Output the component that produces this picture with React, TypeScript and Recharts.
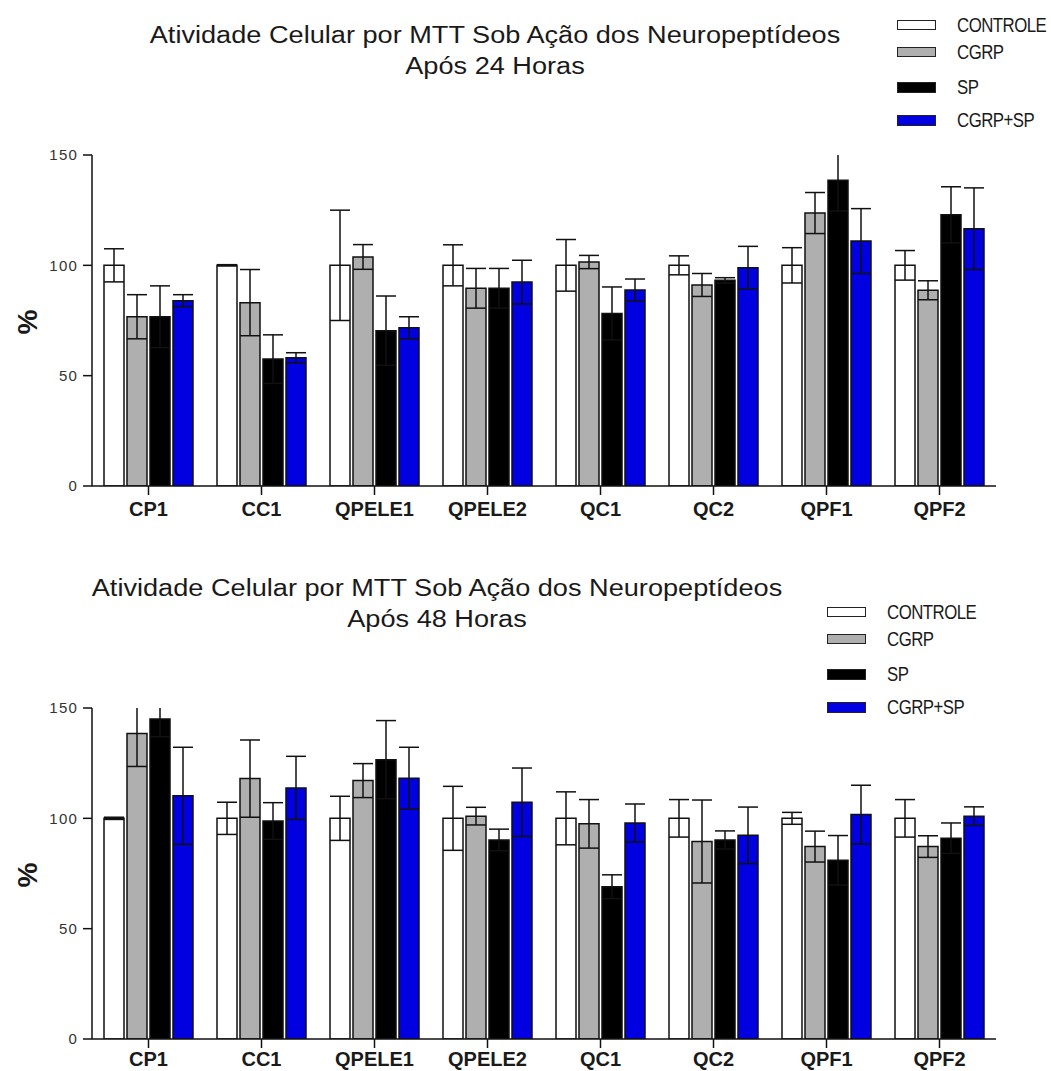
import { BarChart, Bar, XAxis, YAxis, ErrorBar, Legend } from 'recharts';

const categories = ['CP1', 'CC1', 'QPELE1', 'QPELE2', 'QC1', 'QC2', 'QPF1', 'QPF2'];
const seriesNames = ['CONTROLE', 'CGRP', 'SP', 'CGRP+SP'];
const seriesKeys = ['controle', 'cgrp', 'sp', 'cgrpSp'];
const seriesFills = ['#ffffff', '#afafaf', '#000000', '#0000e0'];
const yTicks = [0, 50, 100, 150];

const titleMain = 'Atividade Celular por MTT Sob Ação dos Neuropeptídeos';
const title24 = 'Após 24 Horas';
const title48 = 'Após 48 Horas';

// 24 horas
const controle24 = [100, 100, 100, 100, 100, 100, 100, 100];
const controle24Err = [7.5, 0.3, 25, 9.3, 11.7, 4.3, 8, 6.7];
const cgrp24 = [76.7, 83.1, 103.8, 89.6, 101.5, 91.1, 123.7, 88.7];
const cgrp24Err = [10, 15, 5.6, 9, 3, 5.2, 9.3, 4.3];
const sp24 = [76.7, 57.5, 70.4, 89.6, 78.2, 93.2, 138.6, 122.9];
const sp24Err = [14, 11, 15.7, 9, 12, 1.2, 14, 12.7];
const cgrpSp24 = [84, 58.1, 71.7, 92.4, 88.8, 98.9, 111, 116.6];
const cgrpSp24Err = [2.7, 2.3, 5, 9.9, 5, 9.7, 14.7, 18.5];

// 48 horas
const controle48 = [100, 100, 100, 100, 100, 100, 100, 100];
const controle48Err = [0.5, 7.3, 10, 14.5, 12, 8.5, 2.7, 8.5];
const cgrp48 = [138.5, 118, 117.1, 101, 97.5, 89.5, 87.2, 87.2];
const cgrp48Err = [15, 17.5, 7.7, 4, 11, 18.8, 7, 4.9];
const sp48 = [145, 98.8, 126.6, 90.2, 69, 90.2, 81, 91];
const sp48Err = [8, 8.3, 17.7, 4.9, 5.4, 4.1, 11.2, 6.9];
const cgrpSp48 = [110.2, 113.8, 118.2, 107.3, 97.9, 92.3, 101.7, 101];
const cgrpSp48Err = [22, 14.3, 14, 15.5, 8.6, 12.8, 13.3, 4.2];

function buildRows(values: number[][], errors: number[][]) {
  return categories.map((name, i) => {
    const row: Record<string, string | number> = { name };
    seriesKeys.forEach((k, s) => {
      row[k] = values[s][i];
      row[k + 'Err'] = errors[s][i];
    });
    return row;
  });
}

const rows24 = buildRows(
  [controle24, cgrp24, sp24, cgrpSp24],
  [controle24Err, cgrp24Err, sp24Err, cgrpSp24Err],
);
const rows48 = buildRows(
  [controle48, cgrp48, sp48, cgrpSp48],
  [controle48Err, cgrp48Err, sp48Err, cgrpSp48Err],
);

const FONT = '"Liberation Sans", Arial, sans-serif';
const PLOT_TOP = 155;
const legendRowTops = [0, 27, 62, 95];
const swatchHeights = [10, 10, 11, 11];

function LegendBox({ payload }: { payload?: { value: string; color: string }[] }) {
  const items = [...(payload ?? [])].sort(
    (a, b) => seriesNames.indexOf(a.value) - seriesNames.indexOf(b.value),
  );
  return (
    <div style={{ position: 'relative', width: 150, height: 112 }}>
      {items.map((entry, i) => (
        <div
          key={entry.value}
          style={{ position: 'absolute', top: legendRowTops[i], left: 0, height: 12, display: 'flex', alignItems: 'center' }}
        >
          <span
            style={{
              display: 'inline-block',
              width: 39,
              height: swatchHeights[i],
              boxSizing: 'border-box',
              background: entry.color,
              border: '1.5px solid #222',
            }}
          />
          <span
            style={{
              display: 'inline-block',
              marginLeft: 21,
              fontFamily: FONT,
              fontSize: 20,
              letterSpacing: -0.6,
              color: '#1a1a1a',
              whiteSpace: 'nowrap',
              lineHeight: '12px',
              transform: 'scaleX(0.84)',
              transformOrigin: 'left center',
            }}
          >
            {entry.value}
          </span>
        </div>
      ))}
    </div>
  );
}

interface PanelProps {
  id: string;
  rows: Record<string, string | number>[];
  subtitle: string;
  top: number;
  height: number;
  bottom: number;
  labelGap: number;
  titleCenter: number;
  legendLeft: number;
  legendTop: number;
}

function Panel({ id, rows, subtitle, top, height, bottom, labelGap, titleCenter, legendLeft, legendTop }: PanelProps) {
  const clipId = 'errclip-' + id;
  return (
    <div id={'panel-' + id} style={{ position: 'absolute', left: 0, top, width: 1051, height }}>
      {/* error bars that run past the top of the axis are cut at 150, as in the original */}
      <style>{`#panel-${id} [class*="errorBar"] { clip-path: url(#${clipId}); }`}</style>
      <svg width={0} height={0} style={{ position: 'absolute' }}>
        <defs>
          <clipPath id={clipId} clipPathUnits="userSpaceOnUse">
            <rect x={0} y={PLOT_TOP} width={1051} height={height} />
          </clipPath>
        </defs>
      </svg>
      <div
        style={{
          position: 'absolute',
          left: titleCenter - 400,
          top: 19.5,
          width: 800,
          textAlign: 'center',
          fontFamily: FONT,
          fontSize: 23,
          lineHeight: '31px',
          color: '#1a1a1a',
          transform: 'scaleX(1.18)',
          transformOrigin: 'center',
          whiteSpace: 'nowrap',
        }}
      >
        <div>{titleMain}</div>
        <div>{subtitle}</div>
      </div>
      <div
        style={{
          position: 'absolute',
          left: 28,
          top: 322,
          transform: 'translate(-50%, -50%) rotate(-90deg)',
          fontFamily: FONT,
          fontWeight: 'bold',
          fontSize: 28,
          color: '#1a1a1a',
        }}
      >
        %
      </div>
      <BarChart
        width={1051}
        height={height}
        data={rows}
        barGap={3}
        margin={{ top: PLOT_TOP, right: 55, bottom, left: 32 }}
      >
        <XAxis
          dataKey="name"
          height={30}
          interval={0}
          tickSize={9}
          tickMargin={labelGap}
          axisLine={{ stroke: '#111', strokeWidth: 1.5 }}
          tickLine={{ stroke: '#111', strokeWidth: 1.5 }}
          tick={{ fill: '#1a1a1a', fontSize: 20, fontWeight: 'bold', fontFamily: FONT }}
        />
        <YAxis
          type="number"
          domain={[0, 150]}
          ticks={yTicks}
          allowDataOverflow
          width={60}
          interval={0}
          tickSize={9}
          tickMargin={5}
          axisLine={{ stroke: '#111', strokeWidth: 1.5 }}
          tickLine={{ stroke: '#111', strokeWidth: 1.5 }}
          tick={{ fill: '#333', fontSize: 15, fontFamily: FONT, letterSpacing: 1.2 }}
        />
        <Legend
          layout="vertical"
          align="center"
          verticalAlign="middle"
          content={(props: any) => <LegendBox payload={props.payload} />}
          wrapperStyle={{ position: 'absolute', left: legendLeft, top: legendTop, width: 150, height: 112 }}
        />
        {seriesKeys.map((k, s) => (
          <Bar
            key={k}
            dataKey={k}
            name={seriesNames[s]}
            fill={seriesFills[s]}
            stroke="#111"
            strokeWidth={1.5}
            barSize={20}
            isAnimationActive={false}
          >
            <ErrorBar dataKey={k + 'Err'} width={10} stroke="#111" strokeWidth={1.5} isAnimationActive={false} />
          </Bar>
        ))}
      </BarChart>
    </div>
  );
}

export default function App() {
  return (
    <div
      style={{
        position: 'absolute',
        left: 0,
        top: 0,
        width: 1051,
        height: 1071,
        overflow: 'hidden',
        background: '#fff',
        fontFamily: FONT,
      }}
    >
      <Panel
        id="24"
        rows={rows24}
        subtitle={title24}
        top={0}
        height={540}
        bottom={24}
        labelGap={7}
        titleCenter={495}
        legendLeft={897}
        legendTop={19}
      />
      <Panel
        id="48"
        rows={rows48}
        subtitle={title48}
        top={553}
        height={518}
        bottom={2}
        labelGap={4}
        titleCenter={437}
        legendLeft={827}
        legendTop={53}
      />
    </div>
  );
}
